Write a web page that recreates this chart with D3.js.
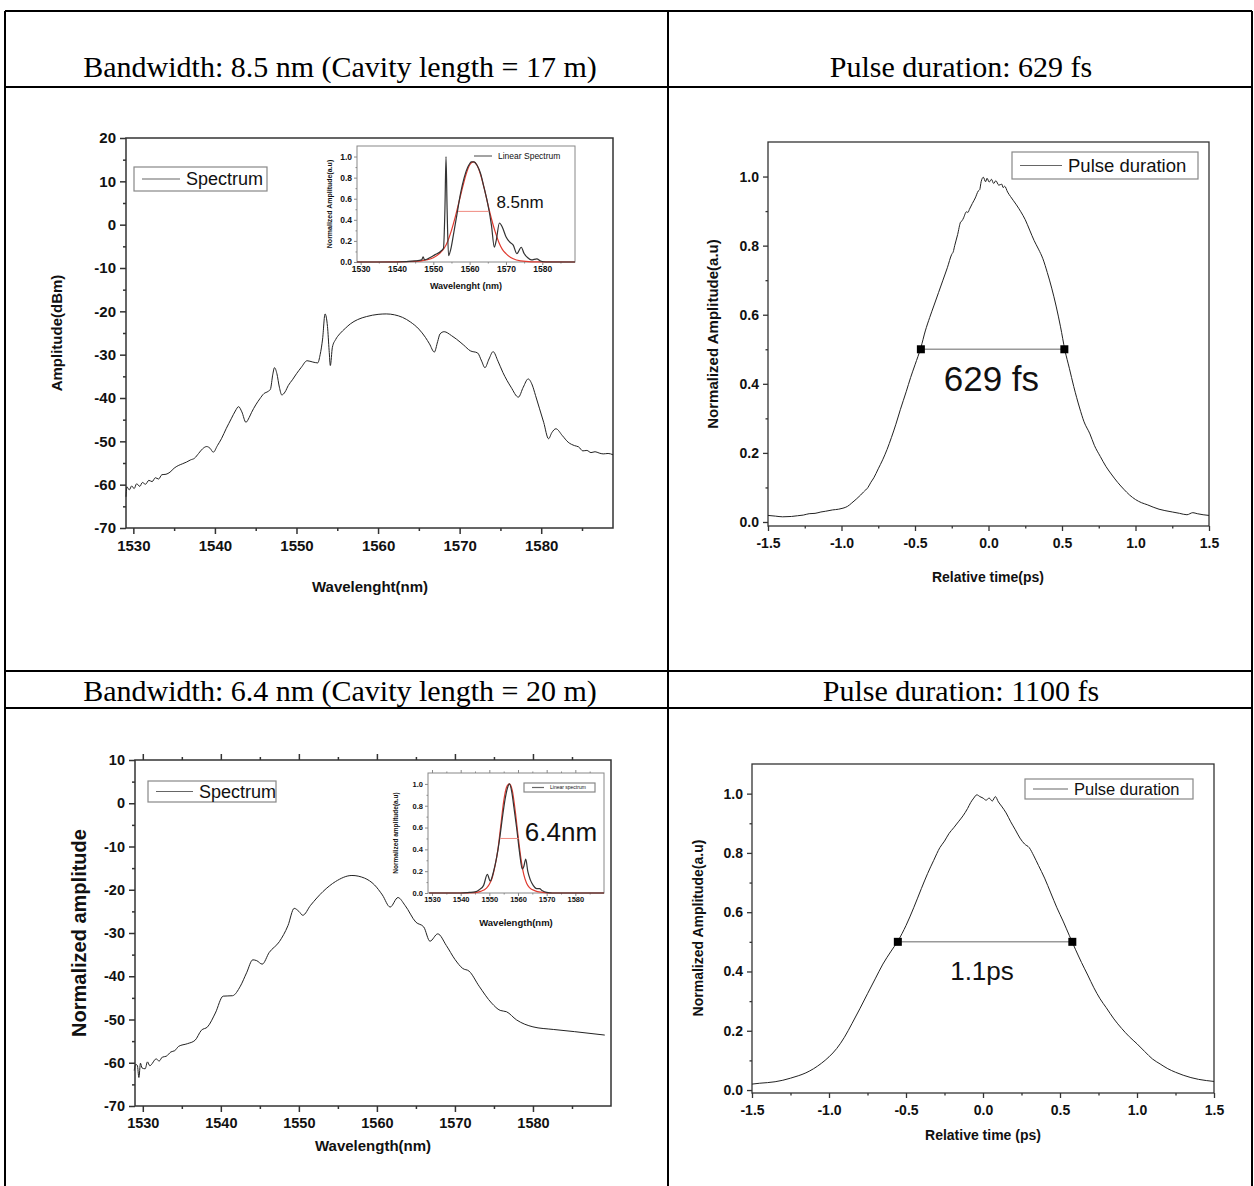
<!DOCTYPE html>
<html>
<head>
<meta charset="utf-8">
<script src="https://cdn.jsdelivr.net/npm/d3@7"></script>
<style>
  body { margin: 0; background: #fff; }
  svg { display: block; }
</style>
</head>
<body>
<svg id="fig" width="1254" height="1186" viewBox="0 0 1254 1186"></svg>
<script>
// ---- data ----
const headers = [
    "Bandwidth: 8.5 nm (Cavity length = 17 m)",
    "Pulse duration: 629 fs",
    "Bandwidth: 6.4 nm (Cavity length = 20 m)",
    "Pulse duration: 1100 fs"
]

// [wavelength nm, dBm]  - cavity 17 m
const spectrum1 = [
    [1529.1,-62.8],[1529.2,-60.5],[1529.5,-61.2],[1529.8,-60.3],[1530.1,-60.9],[1530.4,-59.8],[1530.8,-60.4],
    [1531.1,-59.5],[1531.5,-59.9],[1531.9,-59.0],[1532.3,-59.3],[1532.7,-58.4],[1533.1,-58.7],[1533.5,-57.7],
    [1534,-57.6],[1534.5,-57.1],[1535,-56.2],[1535.5,-55.6],[1536,-55.2],[1536.5,-54.8],[1537,-54.3],
    [1537.5,-53.9],[1538,-52.8],[1538.5,-51.7],[1539,-51.2],[1539.4,-51.6],[1539.8,-52.5],[1540.3,-51],
    [1540.8,-49.4],[1541.4,-47],[1542,-44.8],[1542.5,-43],[1542.9,-42.0],[1543.3,-43.2],[1543.8,-45.6],
    [1544.2,-44.5],[1544.5,-43.3],[1545,-41.6],[1545.5,-40.2],[1546,-39],[1546.5,-38.5],[1546.8,-38.0],
    [1547.1,-34.5],[1547.3,-33.0],[1547.6,-34.4],[1547.9,-37.5],[1548.2,-39.3],[1548.6,-38.6],[1549,-37.1],
    [1549.5,-35.8],[1550,-34.4],[1550.6,-32.9],[1551.3,-31.4],[1552,-31.7],[1552.6,-31.9],[1552.9,-30],
    [1553.2,-26.4],[1553.5,-20.6],[1553.8,-23.5],[1554.0,-29],[1554.15,-32.5],[1554.4,-28.3],[1554.8,-26.5],
    [1555.3,-25.2],[1556,-23.9],[1556.6,-22.9],[1557.5,-21.9],[1558.6,-21.2],[1560,-20.7],[1561,-20.6],
    [1562,-20.8],[1563,-21.4],[1564,-22.5],[1565,-24.1],[1565.8,-26],[1566.3,-27.5],[1566.9,-29.4],
    [1567.3,-27],[1567.6,-25.2],[1568.1,-24.7],[1569,-25.6],[1569.6,-26.4],[1570.5,-27.8],[1571.3,-29.1],
    [1572.2,-29.6],[1572.7,-31.5],[1573.1,-33.0],[1573.6,-31],[1574.1,-29.3],[1574.7,-31.5],[1575.3,-34.1],
    [1576.3,-37.5],[1577.2,-39.8],[1577.8,-37.5],[1578.4,-35.6],[1578.9,-37],[1579.3,-39.4],[1579.8,-42.5],
    [1580.3,-45.6],[1580.9,-49.4],[1581.3,-48],[1581.8,-47.1],[1582.6,-48.7],[1583.3,-50.2],[1584.1,-51],
    [1584.6,-51.3],[1585.1,-52.2],[1585.6,-52.1],[1586.1,-52.6],[1586.6,-52.4],[1587.1,-52.7],[1587.6,-52.9],
    [1588.2,-52.8],[1588.8,-53.1]
]
// inset: linear spectrum + red fit (normalized)
const linear1 = [
    [1529,0],[1540,0],[1545,0.01],[1546.8,0.02],[1547.2,0.05],[1547.6,0.02],[1549,0.04],[1550.5,0.07],
    [1552,0.1],[1552.8,0.13],[1553.2,0.5],[1553.5,1.0],[1553.8,0.5],[1554.2,0.06],[1554.8,0.12],[1555.5,0.25],
    [1556.5,0.45],[1557.5,0.65],[1558.5,0.8],[1559.5,0.9],[1560.5,0.95],[1561.2,0.95],[1562,0.92],[1563,0.84],
    [1564,0.7],[1565,0.55],[1566,0.35],[1566.8,0.14],[1567.3,0.2],[1568.2,0.37],[1569,0.33],[1570,0.24],
    [1571,0.19],[1572,0.16],[1573,0.08],[1574.2,0.14],[1575,0.08],[1576,0.04],[1577,0.02],[1578.5,0.03],
    [1579.5,0.01],[1581,0],[1589,0]
]
const fit1 = [
    [1529,0],[1535,0],[1545,0.005],[1548,0.02],[1550,0.04],[1552,0.09],[1553,0.13],[1554,0.2],[1555,0.3],
    [1556,0.42],[1557,0.56],[1558,0.7],[1559,0.83],[1560,0.92],[1561,0.95],[1562,0.92],[1563,0.83],[1564,0.7],
    [1565,0.55],[1566,0.41],[1567,0.29],[1568,0.19],[1569,0.12],[1570,0.08],[1572,0.03],[1574,0.01],
    [1577,0.002],[1589,0]
]
const fwhm1 = [1556.8, 1565.2, 0.48]

// [relative time ps, normalized amplitude] - 629 fs
const pulse1 = [
    [-1.50,0.019],[-1.45,0.017],[-1.40,0.015],[-1.34,0.016],[-1.30,0.018],[-1.26,0.020],[-1.22,0.024],
    [-1.18,0.025],[-1.14,0.029],[-1.11,0.031],[-1.06,0.035],[-1.02,0.037],[-0.99,0.040],[-0.96,0.045],
    [-0.93,0.055],[-0.90,0.066],[-0.87,0.078],[-0.85,0.087],[-0.82,0.100],[-0.80,0.115],[-0.78,0.128],
    [-0.75,0.154],[-0.72,0.180],[-0.69,0.210],[-0.66,0.245],[-0.63,0.283],[-0.60,0.325],[-0.56,0.377],
    [-0.53,0.418],[-0.50,0.455],[-0.46,0.505],[-0.43,0.553],[-0.40,0.592],[-0.37,0.628],[-0.34,0.664],
    [-0.31,0.700],[-0.28,0.736],[-0.25,0.775],[-0.24,0.782],[-0.23,0.800],[-0.21,0.832],[-0.19,0.868],
    [-0.18,0.872],[-0.17,0.880],[-0.15,0.898],[-0.14,0.896],[-0.13,0.905],[-0.11,0.922],[-0.09,0.938],
    [-0.07,0.958],[-0.06,0.962],[-0.05,0.985],[-0.035,0.998],[-0.02,0.985],[-0.01,0.995],[0.005,0.984],
    [0.02,0.992],[0.035,0.980],[0.05,0.988],[0.07,0.975],[0.09,0.978],[0.10,0.968],[0.11,0.972],
    [0.13,0.955],[0.15,0.942],[0.17,0.930],[0.19,0.918],[0.22,0.898],[0.25,0.875],[0.28,0.845],[0.31,0.815],
    [0.34,0.790],[0.37,0.762],[0.40,0.722],[0.43,0.677],[0.46,0.625],[0.49,0.565],[0.52,0.497],[0.55,0.445],
    [0.58,0.392],[0.62,0.330],[0.65,0.290],[0.69,0.255],[0.72,0.222],[0.76,0.190],[0.80,0.160],[0.84,0.136],
    [0.88,0.114],[0.92,0.095],[0.96,0.078],[1.00,0.065],[1.04,0.056],[1.08,0.050],[1.12,0.043],[1.16,0.037],
    [1.20,0.033],[1.25,0.029],[1.30,0.025],[1.35,0.021],[1.39,0.027],[1.42,0.024],[1.46,0.021],[1.50,0.019]
]
const halfPts1 = [-0.46, 0.516]

// [wavelength nm, dB] - cavity 20 m
const spectrum2 = [
    [1528.9,-61.8],[1529.1,-60.4],[1529.3,-60.6],[1529.5,-63.4],[1529.7,-60.1],[1529.9,-61.2],[1530.3,-61.4],
    [1530.6,-59.8],[1530.9,-60.7],[1531.2,-60.2],[1531.5,-59.4],[1531.7,-59.1],[1532.1,-59.6],[1532.5,-58.7],
    [1533.0,-58.5],[1533.6,-57.5],[1534.1,-57.2],[1534.6,-56.2],[1535.7,-55.6],[1536.7,-54.8],[1537.5,-52.5],
    [1538.3,-51.7],[1539.3,-48.5],[1540.3,-44.6],[1541.5,-44.5],[1542.5,-42.3],[1543.3,-39.2],[1544.1,-36.2],
    [1544.6,-36.4],[1545.3,-37.2],[1546.2,-34.5],[1547.5,-32],[1548.6,-28.3],[1549.4,-24.3],[1550,-25],
    [1550.5,-25.9],[1551.5,-23.6],[1553.1,-20.4],[1554.7,-18.1],[1556.8,-16.7],[1558.4,-17.3],[1559.7,-18.9],
    [1560.7,-21.2],[1561.7,-24],[1562.7,-21.8],[1563.6,-23.6],[1565,-27.5],[1566,-28.6],[1566.8,-31.9],
    [1567.8,-30.2],[1568.9,-32.9],[1570,-36.1],[1571,-38.2],[1571.8,-38.8],[1573.1,-42.3],[1574.7,-46.2],
    [1575.8,-47.9],[1576.6,-48.2],[1577.9,-50.1],[1580,-51.7],[1582.6,-52.3],[1585.3,-52.8],[1589.2,-53.6]
]
const linear2 = [
    [1529,0],[1540,0],[1543,0.005],[1545,0.01],[1546.5,0.03],[1548,0.07],[1549.3,0.17],[1550.3,0.11],
    [1551.5,0.2],[1552.5,0.32],[1553.5,0.48],[1554.5,0.68],[1555.5,0.86],[1556.3,0.96],[1557,1.0],
    [1557.8,0.93],[1558.6,0.78],[1559.5,0.6],[1560.5,0.38],[1561.5,0.22],[1562,0.24],[1562.7,0.31],
    [1563.4,0.2],[1564.3,0.12],[1565.3,0.07],[1566.5,0.04],[1567.5,0.04],[1568.5,0.02],[1570,0.005],
    [1572,0],[1590,0]
]
const fit2 = [
    [1529,0],[1540,0],[1545,0.004],[1547,0.015],[1549,0.045],[1550,0.08],[1551,0.14],[1552,0.25],[1553,0.40],
    [1554,0.62],[1555,0.84],[1556,0.97],[1557,1.0],[1558,0.94],[1559,0.76],[1560,0.53],[1561,0.32],
    [1562,0.17],[1563,0.09],[1564,0.05],[1566,0.02],[1568,0.008],[1572,0],[1590,0]
]
const fwhm2 = [1553.8, 1560.2, 0.5]

// [relative time ps, normalized amplitude] - 1100 fs
const pulse2 = [
    [-1.50,0.020],[-1.45,0.023],[-1.40,0.025],[-1.35,0.028],[-1.30,0.033],[-1.25,0.040],[-1.20,0.048],
    [-1.15,0.058],[-1.10,0.072],[-1.05,0.090],[-1.00,0.112],[-0.95,0.140],[-0.90,0.178],[-0.85,0.225],
    [-0.80,0.274],[-0.75,0.325],[-0.70,0.375],[-0.65,0.425],[-0.60,0.466],[-0.55,0.505],[-0.50,0.555],
    [-0.45,0.615],[-0.40,0.680],[-0.36,0.730],[-0.32,0.775],[-0.28,0.818],[-0.25,0.840],[-0.22,0.866],
    [-0.19,0.885],[-0.16,0.905],[-0.13,0.925],[-0.10,0.950],[-0.08,0.970],[-0.06,0.985],[-0.04,0.996],
    [-0.02,0.990],[0.00,0.985],[0.02,0.978],[0.04,0.985],[0.06,0.975],[0.08,0.990],[0.10,0.972],
    [0.12,0.958],[0.15,0.935],[0.18,0.905],[0.21,0.878],[0.24,0.850],[0.27,0.830],[0.30,0.818],[0.33,0.790],
    [0.36,0.758],[0.40,0.715],[0.44,0.665],[0.48,0.615],[0.52,0.570],[0.56,0.522],[0.60,0.475],[0.64,0.430],
    [0.68,0.388],[0.72,0.345],[0.76,0.308],[0.80,0.278],[0.85,0.240],[0.90,0.208],[0.95,0.180],[1.00,0.156],
    [1.05,0.130],[1.10,0.105],[1.15,0.088],[1.20,0.072],[1.25,0.060],[1.30,0.050],[1.35,0.042],[1.40,0.036],
    [1.45,0.032],[1.50,0.029]
]
const halfPts2 = [-0.553, 0.58]

// tick values
const dbmTicks1 = d3.range(-70, 21, 10)
const dbmTicks2 = d3.range(-70, 11, 10)
const nmTicks = [1530, 1540, 1550, 1560, 1570, 1580]
const nmMinor = [1535, 1545, 1555, 1565, 1575, 1585]
const ampTicks = [0, 0.2, 0.4, 0.6, 0.8, 1.0]
const ampMinor = [0.1, 0.3, 0.5, 0.7, 0.9]
const timeTicks = [-1.5, -1.0, -0.5, 0, 0.5, 1.0, 1.5]
const timeMinor = [-1.25, -0.75, -0.25, 0.25, 0.75, 1.25]

const svg = d3.select("#fig")
const SANS = "'Liberation Sans', Arial, sans-serif"
const SERIF = "'Liberation Serif', 'Times New Roman', serif"
const f1 = d => d.toFixed(1)
const f0 = d => String(d)

svg.append("rect").attr("width", 1254).attr("height", 1186).attr("fill", "white")

// ---- table grid ----
const grid = svg.append("g").attr("stroke", "black").attr("stroke-width", 2)
;[5, 668, 1252].forEach(x => grid.append("line").attr("x1", x).attr("x2", x).attr("y1", 11).attr("y2", 1186))
;[11, 87, 671, 708].forEach(y => grid.append("line").attr("x1", 5).attr("x2", 1252).attr("y1", y).attr("y2", y))

const headerPos = [[340, 77], [961, 77], [340, 701], [961, 701]]
headers.forEach((h, i) => {
    svg.append("text").attr("x", headerPos[i][0]).attr("y", headerPos[i][1])
        .attr("text-anchor", "middle").attr("font-family", SERIF).attr("font-size", 30)
        .text(h)
})

// draws a framed plot box with outward ticks, returns the scales
function panel(c) {
    const x = d3.scaleLinear().domain(c.xDom).range([c.left, c.right])
    const y = d3.scaleLinear().domain(c.yDom).range([c.bottom, c.top])
    const g = svg.append("g")
    g.append("rect").attr("x", c.left).attr("y", c.top)
        .attr("width", c.right - c.left).attr("height", c.bottom - c.top)
        .attr("fill", "white").attr("stroke", c.frame).attr("stroke-width", c.frameW)

    const bx = g.append("g").attr("transform", `translate(0,${c.bottom})`)
    bx.call(d3.axisBottom(x).tickValues(c.xMajor).tickSize(c.tick).tickPadding(c.xPad).tickFormat(c.fx))
    bx.append("g").call(d3.axisBottom(x).tickValues(c.xMinor).tickSize(c.tick / 2).tickFormat(""))
    const ly = g.append("g").attr("transform", `translate(${c.left},0)`)
    ly.call(d3.axisLeft(y).tickValues(c.yMajor).tickSize(c.tick).tickPadding(c.yPad).tickFormat(c.fy))
    ly.append("g").call(d3.axisLeft(y).tickValues(c.yMinor).tickSize(c.tick / 2).tickFormat(""))
    if (c.topTicks) {
        const tx = g.append("g").attr("transform", `translate(0,${c.top})`)
        tx.call(d3.axisTop(x).tickValues(c.xMajor).tickSize(c.tick).tickFormat(""))
        tx.append("g").call(d3.axisTop(x).tickValues(c.xMinor).tickSize(c.tick / 2).tickFormat(""))
    }
    g.selectAll(".domain").remove()
    g.selectAll(".tick line").attr("stroke", c.frame).attr("stroke-width", c.frameW)
    g.selectAll(".tick text").attr("font-family", SANS).attr("font-weight", "bold")
        .attr("font-size", c.fs).attr("fill", "#111")
    return {x, y, g}
}

function curve(p, data, color, w) {
    const line = d3.line().x(d => p.x(d[0])).y(d => p.y(d[1])).curve(d3.curveMonotoneX)
    p.g.append("path").datum(data).attr("d", line)
        .attr("fill", "none").attr("stroke", color).attr("stroke-width", w)
}

function label(x, y, txt, size, opts = {}) {
    const t = svg.append("text").attr("font-family", SANS).attr("font-size", size)
        .attr("text-anchor", opts.anchor || "middle").attr("fill", opts.fill || "#111")
        .attr("font-weight", opts.bold ? "bold" : "normal").text(txt)
    if (opts.rotate) t.attr("transform", `translate(${x},${y}) rotate(-90)`)
    else t.attr("x", x).attr("y", y)
    return t
}

function legend(x0, y0, w, h, lineLen, txt, size, boxed = true) {
    if (boxed) svg.append("rect").attr("x", x0).attr("y", y0).attr("width", w).attr("height", h)
        .attr("fill", "white").attr("stroke", "#888").attr("stroke-width", 1.2)
    svg.append("line").attr("x1", x0 + 8).attr("x2", x0 + 8 + lineLen)
        .attr("y1", y0 + h / 2).attr("y2", y0 + h / 2).attr("stroke", "#666").attr("stroke-width", 1.2)
    label(x0 + 14 + lineLen, y0 + h / 2 + size * 0.35, txt, size, {anchor: "start"})
}

// ---- top left: spectrum, 17 m ----
const pA = panel({left: 126, right: 613, top: 138, bottom: 528, xDom: [1529.1, 1588.8], yDom: [-70, 20],
    xMajor: nmTicks, xMinor: nmMinor, yMajor: dbmTicks1, yMinor: d3.range(-65, 20, 10),
    fx: f0, fy: f0, tick: 6, xPad: 6, yPad: 4, fs: 15, frame: "#333", frameW: 1.5})
curve(pA, spectrum1, "#222", 1)
label(62, 333, "Amplitude(dBm)", 15, {bold: true, rotate: true})
label(370, 592, "Wavelenght(nm)", 15, {bold: true})
legend(134, 167, 133, 24, 38, "Spectrum", 18)

const iA = panel({left: 357, right: 575, top: 146, bottom: 262, xDom: [1529, 1589], yDom: [0, 1.1],
    xMajor: nmTicks, xMinor: nmMinor, yMajor: ampTicks, yMinor: ampMinor,
    fx: f0, fy: f1, tick: 3, xPad: 1, yPad: 2, fs: 8.5, frame: "#888", frameW: 1})
curve(iA, fit1, "#e03a2f", 1.2)
curve(iA, linear1, "#333", 1.2)
iA.g.append("line").attr("x1", iA.x(fwhm1[0])).attr("x2", iA.x(fwhm1[1]))
    .attr("y1", iA.y(fwhm1[2])).attr("y2", iA.y(fwhm1[2])).attr("stroke", "#f08a80").attr("stroke-width", 1)
label(520, 208, "8.5nm", 17)
legend(466, 150, 0, 12, 18, "Linear Spectrum", 8.5, false)
label(332, 204, "Normalized Amplitude(a.u)", 7, {bold: true, rotate: true})
label(466, 289, "Wavelenght (nm)", 9, {bold: true})

// ---- top right: pulse, 629 fs ----
const pB = panel({left: 768, right: 1209, top: 142, bottom: 526, xDom: [-1.5, 1.5], yDom: [-0.0116, 1.1],
    xMajor: timeTicks, xMinor: timeMinor, yMajor: ampTicks, yMinor: ampMinor,
    fx: f1, fy: f1, tick: 5, xPad: 7, yPad: 4, fs: 14, frame: "#333", frameW: 1.3})
curve(pB, pulse1, "#222", 1)
pB.g.append("line").attr("x1", pB.x(halfPts1[0])).attr("x2", pB.x(halfPts1[1]))
    .attr("y1", pB.y(0.5)).attr("y2", pB.y(0.5)).attr("stroke", "#999").attr("stroke-width", 1.5)
pB.g.selectAll(".hm").data(halfPts1).enter().append("rect")
    .attr("x", d => pB.x(d) - 4).attr("y", pB.y(0.5) - 4).attr("width", 8).attr("height", 8).attr("fill", "black")
label(pB.x(0.02), 391, "629 fs", 35)
legend(1012, 152, 186, 27, 42, "Pulse duration", 18.5)
label(718, 334, "Normalized Amplitude(a.u)", 15, {bold: true, rotate: true})
label(988, 582, "Relative time(ps)", 14, {bold: true})

// ---- bottom left: spectrum, 20 m ----
const pC = panel({left: 135, right: 611, top: 760, bottom: 1106, xDom: [1529, 1590], yDom: [-70, 10],
    xMajor: nmTicks, xMinor: nmMinor, yMajor: dbmTicks2, yMinor: d3.range(-65, 10, 10),
    fx: f0, fy: f0, tick: 6, xPad: 6, yPad: 4, fs: 14.5, frame: "#333", frameW: 1.5, topTicks: true})
curve(pC, spectrum2, "#222", 1)
label(86, 933, "Normalized amplitude", 20, {bold: true, rotate: true})
label(373, 1151, "Wavelength(nm)", 15, {bold: true})
legend(148, 781, 128, 21, 37, "Spectrum", 18)

const iC = panel({left: 428, right: 604, top: 773, bottom: 893, xDom: [1528.6, 1590], yDom: [0, 1.1],
    xMajor: nmTicks, xMinor: nmMinor, yMajor: ampTicks, yMinor: ampMinor,
    fx: f0, fy: f1, tick: 3, xPad: 1, yPad: 2, fs: 7.5, frame: "#888", frameW: 1, topTicks: true})
curve(iC, fit2, "#e03a2f", 1.2)
curve(iC, linear2, "#333", 1.2)
iC.g.append("line").attr("x1", iC.x(fwhm2[0])).attr("x2", iC.x(fwhm2[1]))
    .attr("y1", iC.y(fwhm2[2])).attr("y2", iC.y(fwhm2[2])).attr("stroke", "#f08a80").attr("stroke-width", 1)
label(561, 841, "6.4nm", 26)
legend(524, 783, 71, 9, 12, "Linear spectrum", 5)
label(398, 833, "Normalized amplitude(a.u)", 6.5, {bold: true, rotate: true})
label(516, 926, "Wavelength(nm)", 9.5, {bold: true})

// ---- bottom right: pulse, 1100 fs ----
const pD = panel({left: 752, right: 1214, top: 764, bottom: 1093, xDom: [-1.5, 1.5], yDom: [-0.01, 1.1],
    xMajor: timeTicks, xMinor: timeMinor, yMajor: ampTicks, yMinor: ampMinor,
    fx: f1, fy: f1, tick: 5, xPad: 7, yPad: 4, fs: 14, frame: "#333", frameW: 1.3})
curve(pD, pulse2, "#222", 1)
pD.g.append("line").attr("x1", pD.x(halfPts2[0])).attr("x2", pD.x(halfPts2[1]))
    .attr("y1", pD.y(0.5)).attr("y2", pD.y(0.5)).attr("stroke", "#999").attr("stroke-width", 1.5)
pD.g.selectAll(".hm").data(halfPts2).enter().append("rect")
    .attr("x", d => pD.x(d) - 4).attr("y", pD.y(0.5) - 4).attr("width", 8).attr("height", 8).attr("fill", "black")
label(982, 980, "1.1ps", 26)
legend(1025, 779, 168, 20, 35, "Pulse duration", 16.5)
label(703, 928, "Normalized Amplitude(a.u)", 14, {bold: true, rotate: true})
label(983, 1140, "Relative time (ps)", 14, {bold: true})
</script>
</body>
</html>
